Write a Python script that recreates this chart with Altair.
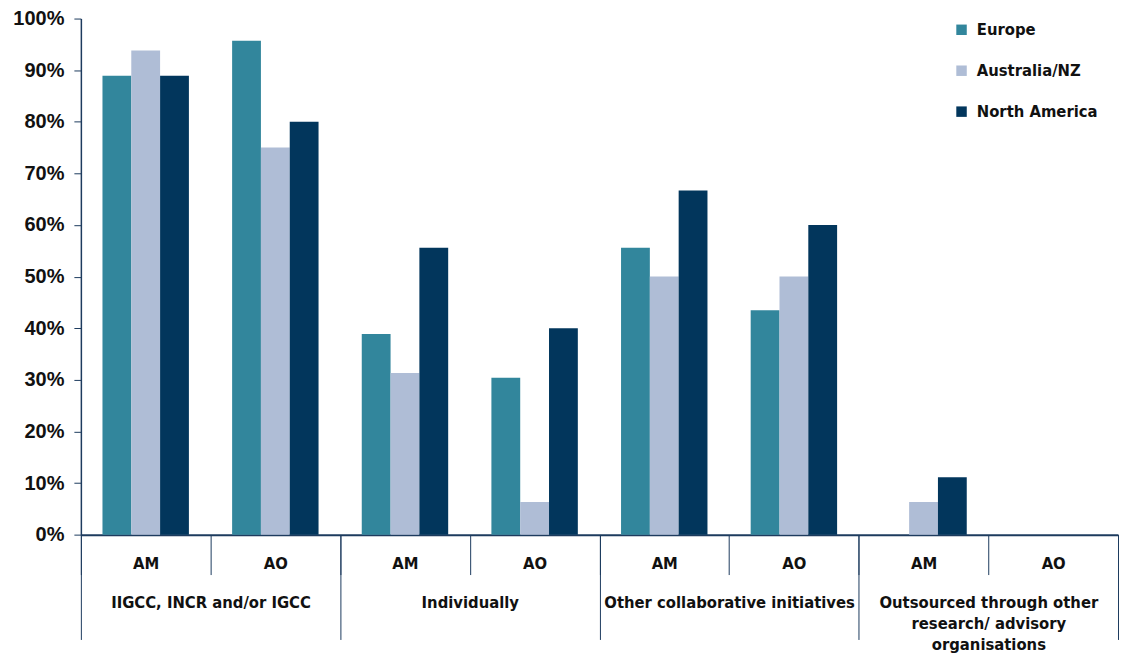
import altair as alt
import pandas as pd

groups = ["IIGCC, INCR and/or IGCC", "Individually", "Other collaborative initiatives",
          "Outsourced through other|research/ advisory|organisations"]
subs = ["AM", "AO"]
regions = ["Europe", "Australia/NZ", "North America"]
colors = ["#32869C", "#AFBDD6", "#02365C"]

europe = [88.9, 95.7, 38.9, 30.4, 55.6, 43.5, 0.0, 0.0]
australia = [93.8, 75.0, 31.3, 6.3, 50.0, 50.0, 6.3, 0.0]
north_america = [88.9, 80.0, 55.6, 40.0, 66.7, 60.0, 11.1, 0.0]
y_ticks = [0, 0.1, 0.2, 0.3, 0.4, 0.5, 0.6, 0.7, 0.8, 0.9, 1.0]

keys = [f"{gi}|{s}" for gi in range(len(groups)) for s in subs]
rows = []
for series, name in zip([europe, australia, north_america], regions):
    for k, v in zip(keys, series):
        rows.append({"key": k, "region": name, "value": v / 100})
df = pd.DataFrame(rows)
gdf = pd.DataFrame({"group": groups})

NAVY = "#1d3b5e"
NARROW = "DejaVu Sans Condensed, Liberation Sans Narrow, sans-serif"
REG = "Liberation Sans, Arial, sans-serif"
FS = 16.5

bars = alt.Chart(df).mark_bar().encode(
    x=alt.X("key:N", sort=keys, title=None,
            scale=alt.Scale(paddingInner=0, paddingOuter=0),
            axis=alt.Axis(labelExpr="split(datum.label,'|')[1]", labelAngle=0,
                          tickBand="extent", tickExtra=True, tickSize=40,
                          tickColor=NAVY, tickWidth=1, domainColor=NAVY, domainWidth=2,
                          labelFont=NARROW, labelFontSize=FS, labelFontWeight="bold",
                          labelColor="#111111", labelBaseline="middle", labelPadding=-11,
                          labelOverlap=False)),
    xOffset=alt.XOffset("region:N", sort=regions,
                        scale=alt.Scale(paddingInner=0, paddingOuter=0.75)),
    y=alt.Y("value:Q", title=None,
            scale=alt.Scale(domain=[0, 1], nice=False),
            axis=alt.Axis(values=y_ticks, format=".0%", grid=False,
                          domainColor=NAVY, domainWidth=1.5, tickColor=NAVY, tickSize=7,
                          labelFont=REG, labelFontSize=20, labelFontWeight="bold",
                          labelColor="#111111", labelPadding=10)),
    color=alt.Color("region:N", sort=regions,
                    scale=alt.Scale(domain=regions, range=colors),
                    legend=alt.Legend(title=None, orient="none", legendX=874, legendY=3,
                                      symbolType="square", symbolSize=110,
                                      symbolStrokeWidth=0, labelFont=NARROW,
                                      labelFontSize=FS, labelFontWeight="bold",
                                      labelColor="#111111", labelOffset=7,
                                      rowPadding=24)),
)

group_axis = alt.Chart(gdf).mark_point(opacity=0).encode(
    x=alt.X("group:N", sort=groups, title=None,
            scale=alt.Scale(paddingInner=0, paddingOuter=0),
            axis=alt.Axis(orient="bottom", domain=False, labelAngle=0,
                          labelExpr="split(datum.label,'|')",
                          tickBand="extent", tickExtra=True, tickSize=105,
                          tickColor=NAVY, tickWidth=1,
                          labelFont=NARROW, labelFontSize=FS, labelFontWeight="bold",
                          labelColor="#111111", labelBaseline="top", labelPadding=-45,
                          labelLineHeight=21, labelLimit=1000, labelOverlap=False)),
)

chart = alt.layer(bars, group_axis).resolve_scale(x="independent").properties(
    width=1039, height=517, padding={"left": 4, "top": 0, "right": 0, "bottom": 0}
).configure_view(stroke=None)

chart.save("out.html", embed_options={"renderer": "svg", "actions": False})
